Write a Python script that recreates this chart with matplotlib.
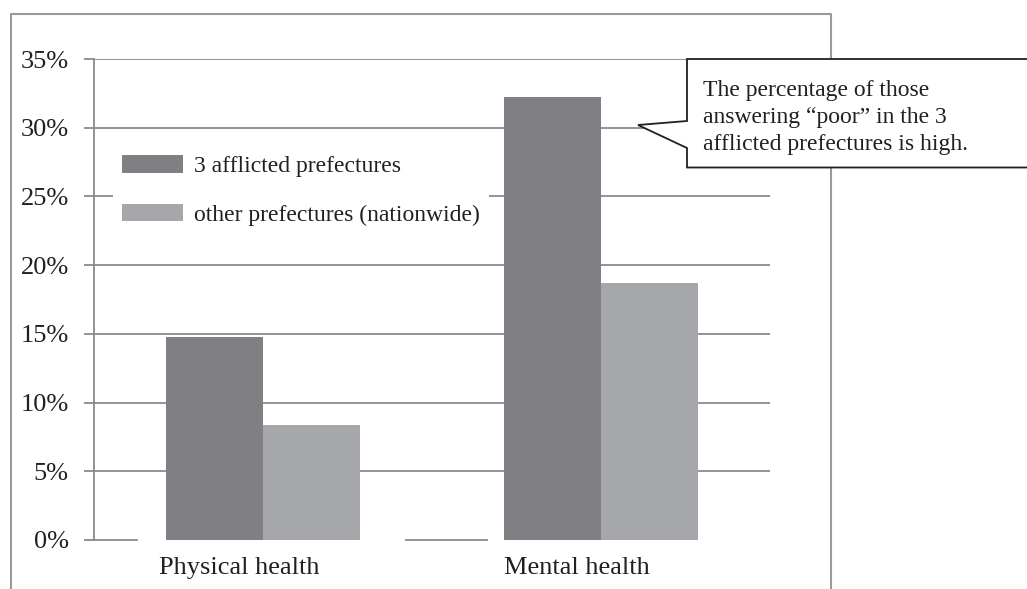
import matplotlib
matplotlib.use("Agg")
import matplotlib.pyplot as plt
import numpy as np
from matplotlib.lines import Line2D
from matplotlib.patches import Polygon
from matplotlib.transforms import ScaledTranslation

categories = ["Physical health", "Mental health"]
series_names = ["3 afflicted prefectures", "other prefectures (nationwide)"]
afflicted = [14.8, 32.2]
other = [8.4, 18.7]
yticks = [0, 5, 10, 15, 20, 25, 30, 35]
ytick_labels = ["0%", "5%", "10%", "15%", "20%", "25%", "30%", "35%"]
callout_text = "The percentage of those\nanswering \u201cpoor\u201d in the 3\nafflicted prefectures is high."

W, H = 1027, 589
DPI = 100
TXT = "#231f20"
GRID = "#8a8a8a"
DARK = "#808084"
LIGHT = "#a6a7ab"

plt.rcParams["font.family"] = ["Liberation Serif", "DejaVu Serif"]

fig = plt.figure(figsize=(W / DPI, H / DPI), dpi=DPI)
fig.patch.set_facecolor("white")

def fx(px):
    return px / W

def fy(py):
    return 1 - py / H

# outer frame (extends past bottom edge)
frame = Line2D([fx(11), fx(11), fx(831), fx(831)], [fy(600), fy(14), fy(14), fy(600)],
               transform=fig.transFigure, color="#9a9a9a", lw=1.5, zorder=0)
fig.add_artist(frame)

ax = fig.add_axes([fx(94), fy(540), fx(770) - fx(94), fy(59) - fy(540)])
ax.set_facecolor("none")

x = np.arange(len(categories))
bw = 0.288
ax.bar(x - bw / 2, afflicted, width=bw, color=DARK, label=series_names[0], zorder=3)
ax.bar(x + bw / 2, other, width=bw, color=LIGHT, label=series_names[1], zorder=3)

ax.set_xlim(-0.5, 1.5)
ax.set_ylim(0, 35)

for v in yticks[1:]:
    ax.axhline(v, color=GRID, lw=1.3, zorder=1)
# baseline segments visible in the reference
ax.axhline(0, xmin=0.0, xmax=0.0636, color=GRID, lw=1.3, zorder=1, clip_on=False)
ax.axhline(0, xmin=0.462, xmax=0.582, color=GRID, lw=1.3, zorder=1, clip_on=False)

for s in ["top", "right", "bottom"]:
    ax.spines[s].set_visible(False)
ax.spines["left"].set_color(GRID)
ax.spines["left"].set_linewidth(1.3)

ax.set_yticks(yticks)
ax.set_yticklabels(ytick_labels, fontsize=19, color=TXT)
ax.tick_params(axis="y", length=7.2, width=1.3, color=GRID, pad=11)

ax.set_xticks(x)
ax.set_xticklabels(categories, fontsize=19, color=TXT)
ax.tick_params(axis="x", length=0, pad=12.5)
off = ScaledTranslation(-24 / DPI, 0, fig.dpi_scale_trans)
for lab in ax.get_xticklabels():
    lab.set_transform(lab.get_transform() + off)

leg = ax.legend(loc="upper left", bbox_to_anchor=(fx(113), fy(146)), bbox_transform=fig.transFigure,
                fontsize=17, frameon=True, fancybox=False, edgecolor="none", facecolor="white",
                framealpha=1, borderpad=0.4, borderaxespad=0, handlelength=2.55, handleheight=0.76,
                handletextpad=0.47, labelspacing=1.12)
for t in leg.get_texts():
    t.set_color(TXT)

# callout box with pointer
pts = [(687, 59), (1045, 59), (1045, 167.5), (687, 167.5), (687, 148), (638, 125), (687, 121)]
poly = Polygon([(fx(a), fy(b)) for a, b in pts], closed=True, transform=fig.transFigure,
               facecolor="white", edgecolor="#231f20", lw=1.3, zorder=5)
fig.add_artist(poly)
fig.text(fx(703), fy(80), callout_text, fontsize=17, color=TXT, ha="left", va="top",
         linespacing=1.36, zorder=6)

fig.savefig("out.png", dpi=DPI)
